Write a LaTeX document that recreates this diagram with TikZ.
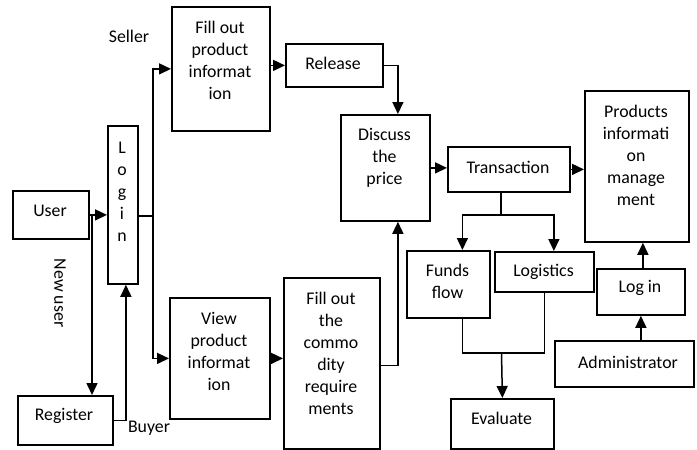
\documentclass[tikz,border=0pt]{standalone}
\usepackage{fontspec}
\setmainfont{Carlito}
\usetikzlibrary{arrows.meta}
\begin{document}
\begin{tikzpicture}[x=1pt,y=-1pt,
  box/.style={draw, line width=1.8pt, inner sep=0pt, anchor=north west},
  txt/.style={align=center, inner sep=0pt, font=\fontsize{17.8}{22}\selectfont},
  link/.style={line width=1.5pt},
  arr/.style={line width=1.5pt, -{Triangle[length=12pt,width=11pt]}}]
\useasboundingbox (0,0) rectangle (697,450);

% boxes: corner at (left, top), sized explicitly
\node[box, minimum width=76pt, minimum height=48pt] (user) at (12,190) {};
\node[box, minimum width=30pt, minimum height=158pt] (login) at (107,125) {};
\node[box, minimum width=95pt, minimum height=49pt] (register) at (17,395) {};
\node[box, minimum width=98pt, minimum height=124pt] (fillp) at (171,6) {};
\node[box, minimum width=97pt, minimum height=43pt] (release) at (285,43) {};
\node[box, minimum width=89pt, minimum height=106pt] (discuss) at (340,114) {};
\node[box, minimum width=100pt, minimum height=121pt] (viewp) at (169,297) {};
\node[box, minimum width=96pt, minimum height=171pt] (fillc) at (283,277) {};
\node[box, minimum width=122pt, minimum height=45pt] (trans) at (447,146) {};
\node[box, minimum width=104pt, minimum height=151pt] (prod) at (584,90) {};
\node[box, minimum width=83pt, minimum height=67pt] (funds) at (406,250) {};
\node[box, minimum width=99pt, minimum height=40pt] (logi) at (494,251) {};
\node[box, minimum width=88pt, minimum height=46pt] (logn) at (596,268) {};
\node[box, minimum width=139pt, minimum height=46pt] (admin) at (554,340) {};
\node[box, minimum width=103pt, minimum height=50pt] (eval) at (450,398) {};

% box texts
\node[txt] (userT) at (50,211) {User};
\node[txt] (loginT) at (122,192) {L\\o\\g\\i\\n};
\node[txt] (registerT) at (64,416) {Register};
\node[txt] (fillpT) at (220,60) {Fill out\\product\\informat\\ion};
\node[txt] (releaseT) at (333,63) {Release};
\node[txt] (discussT) at (384.5,158) {Discuss\\the\\price};
\node[txt] (viewpT) at (219,351) {View\\product\\informat\\ion};
\node[txt] (fillcT) at (331,353) {Fill out\\the\\commo\\dity\\require\\ments};
\node[txt] (transT) at (508,167) {Transaction};
\node[txt] (prodT) at (636,155) {Products\\informati\\on\\manage\\ment};
\node[txt] (fundsT) at (447.5,281) {Funds\\flow};
\node[txt] (logiT) at (543.5,272) {Logistics};
\node[txt] (lognT) at (640,288) {Log in};
\node[txt] (adminT) at (628,362) {Administrator};
\node[txt] (evalT) at (501.5,418) {Evaluate};

% free labels
\node[txt] (seller) at (129,36) {Seller};
\node[txt] (buyer) at (149,428) {Buyer};
\node[txt, rotate=-90] (newuser) at (60,293) {New user};

% user / register / login
\draw[arr] (user.east) -- (user.east -| login.west);
\coordinate (nu) at (92,214);
\draw[arr] (nu) -- (nu |- register.north);
\draw[arr] (register.east) -| ([xshift=3pt]login.south);

% login branches to seller and buyer
\coordinate (split) at (153,216);
\draw[link] (login.east |- split) -- (split);
\draw[arr] (split) |- (fillp.west);
\draw[arr] (split) |- (viewp.west);

% seller path
\draw[arr] (release.west -| fillp.east) -- (release.west);
\draw[arr] (release.east) -| ([xshift=12.5pt]discuss.north);

% buyer path
\draw[arr] (viewp.east) -- (viewp.east -| fillc.west);
\draw[arr] ([yshift=-2pt]fillc.east) -| ([xshift=12.5pt]discuss.south);

% negotiation and transaction
\draw[arr] (discuss.east) -- (discuss.east -| trans.west);
\draw[arr] (trans.east) -- (trans.east -| prod.west);
\coordinate (tsplit) at (501,215);
\draw[link] (tsplit |- trans.south) -- (tsplit);
\draw[arr] (tsplit) -| ([xshift=14pt]funds.north);
\draw[arr] (tsplit) -| ([xshift=9.5pt]logi.north);

% evaluation
\coordinate (ej) at (501.5,353);
\draw[link] ([xshift=14pt]funds.south) |- (ej) -| (logi.south);
\draw[arr] (ej) -- (eval.north);

% administrator
\draw[arr] (logn.south |- admin.north) -- (logn.south);
\draw[arr] ([xshift=2pt]logn.north) -- ([xshift=2pt]logn.north |- prod.south);
\end{tikzpicture}
\end{document}
